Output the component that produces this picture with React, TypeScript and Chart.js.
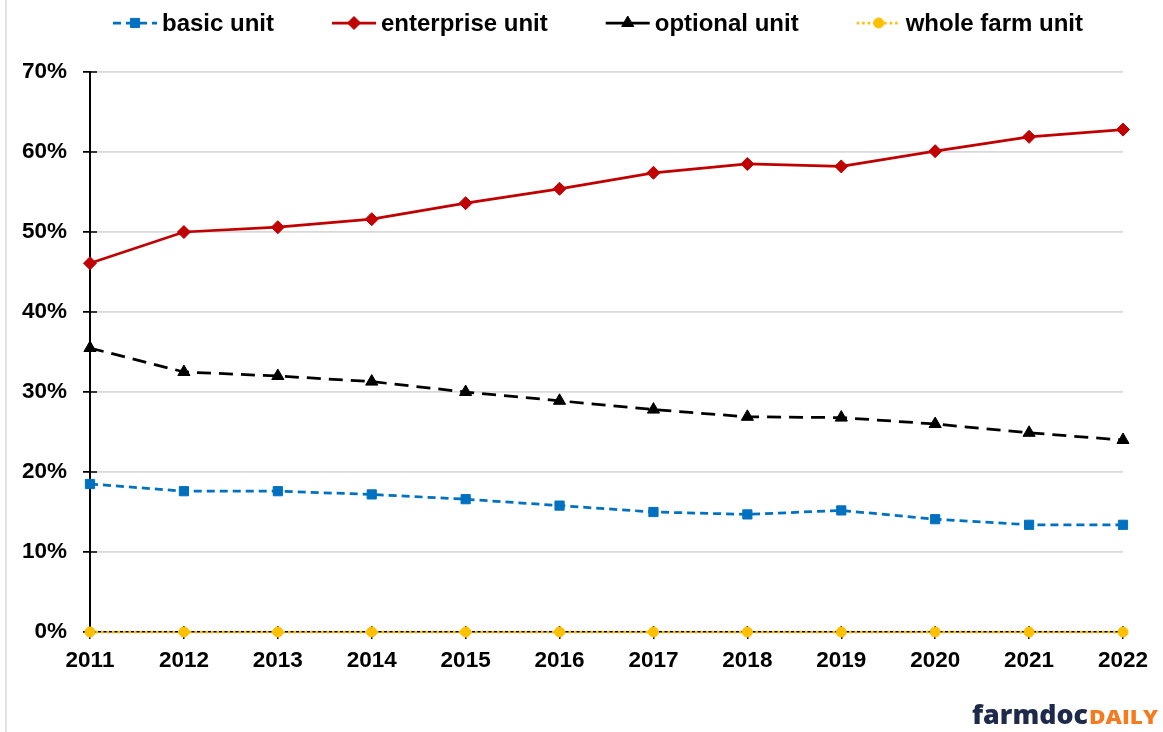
import React, { useEffect, useRef } from 'react';
import { Chart, registerables } from 'chart.js';
import { drawPoint } from 'chart.js/helpers';

Chart.register(...registerables);

const years = ['2011', '2012', '2013', '2014', '2015', '2016', '2017', '2018', '2019', '2020', '2021', '2022'];
const basicUnit = [18.5, 17.6, 17.6, 17.2, 16.6, 15.8, 15.0, 14.7, 15.2, 14.1, 13.4, 13.4];
const enterpriseUnit = [46.1, 50.0, 50.6, 51.6, 53.6, 55.4, 57.4, 58.5, 58.2, 60.1, 61.9, 62.8];
const optionalUnit = [35.5, 32.5, 32.0, 31.3, 30.0, 28.9, 27.8, 26.9, 26.8, 26.0, 24.9, 24.0];
const wholeFarmUnit = [0, 0, 0, 0, 0, 0, 0, 0, 0, 0, 0, 0];
const yMin = 0;
const yMax = 70;
const yStep = 10;

const FONT = '"Liberation Sans", Arial, Helvetica, sans-serif';

const framePlugin = {
  id: 'frame',
  beforeDraw(chart: any) {
    const ctx = chart.ctx;
    ctx.save();
    ctx.fillStyle = '#ffffff';
    ctx.fillRect(0, 0, chart.width, chart.height);
    ctx.strokeStyle = '#d9d9d9';
    ctx.lineWidth = 1.5;
    ctx.beginPath();
    ctx.moveTo(6, 0);
    ctx.lineTo(6, chart.height);
    ctx.stroke();
    ctx.restore();
  },
};

const crossTickPlugin = {
  id: 'crossTicks',
  beforeDatasetsDraw(chart: any) {
    const ctx = chart.ctx;
    const xs = chart.scales.x;
    const ys = chart.scales.y;
    ctx.save();
    ctx.strokeStyle = '#000';
    ctx.lineWidth = 1.5;
    ctx.beginPath();
    ys.ticks.forEach((t: any) => {
      const y = ys.getPixelForValue(t.value);
      ctx.moveTo(xs.left, y);
      ctx.lineTo(xs.left + 7, y);
    });
    years.forEach((_, i) => {
      const x = xs.getPixelForValue(i);
      ctx.moveTo(x, ys.bottom);
      ctx.lineTo(x, ys.bottom - 6);
    });
    ctx.stroke();
    ctx.restore();
  },
};

const legendPlugin = {
  id: 'customLegend',
  afterDraw(chart: any) {
    const ctx = chart.ctx;
    ctx.save();
    ctx.font = `bold 24px ${FONT}`;
    ctx.textBaseline = 'middle';
    ctx.textAlign = 'left';
    let x = 113;
    const y = 23;
    chart.data.datasets.forEach((ds: any) => {
      ctx.strokeStyle = ds.borderColor;
      ctx.lineWidth = ds.borderWidth;
      ctx.setLineDash(ds.legendDash || []);
      ctx.beginPath();
      ctx.moveTo(x, y);
      ctx.lineTo(x + 44, y);
      ctx.stroke();
      ctx.setLineDash([]);
      ctx.fillStyle = ds.pointBackgroundColor;
      ctx.strokeStyle = ds.pointBorderColor;
      ctx.lineWidth = 1;
      drawPoint(ctx, { pointStyle: ds.pointStyle, radius: ds.pointRadius, borderWidth: 1, rotation: 0 } as any, x + 22, y);
      ctx.fillStyle = '#000';
      ctx.fillText(ds.label, x + 49, y + 1);
      x += 49 + ctx.measureText(ds.label).width + 58;
    });
    ctx.restore();
  },
};

const logoPlugin = {
  id: 'logo',
  afterDraw(chart: any) {
    const ctx = chart.ctx;
    ctx.save();
    ctx.textBaseline = 'alphabetic';
    ctx.textAlign = 'left';
    const base = 724;
    ctx.font = `800 27px "Open Sans", ${FONT}`;
    const w1 = ctx.measureText('farmdoc').width;
    const target1 = 116;
    ctx.save();
    ctx.translate(972, base);
    ctx.scale(target1 / w1, 1);
    ctx.fillStyle = '#1e2a4a';
    ctx.fillText('farmdoc', 0, 0);
    ctx.restore();
    ctx.font = `800 19px "Open Sans", ${FONT}`;
    const w2 = ctx.measureText('DAILY').width;
    const target2 = 69;
    ctx.save();
    ctx.translate(1089, base);
    ctx.scale(target2 / w2, 1);
    ctx.fillStyle = '#f47b20';
    ctx.fillText('DAILY', 0, 0);
    ctx.restore();
    ctx.restore();
  },
};

export default function App() {
  const canvasRef = useRef<HTMLCanvasElement | null>(null);

  useEffect(() => {
    document.body.style.margin = '0';
    const canvas = canvasRef.current;
    if (!canvas) return;
    const chart = new Chart(canvas, {
      type: 'line',
      data: {
        labels: years,
        datasets: [
          {
            label: 'basic unit',
            data: basicUnit,
            borderColor: '#0070c0',
            backgroundColor: '#0070c0',
            pointBackgroundColor: '#0070c0',
            pointBorderColor: '#0070c0',
            borderWidth: 2.75,
            borderDash: [8, 5],
            legendDash: [8, 5],
            pointStyle: 'rect',
            pointRadius: 6.5,
            pointBorderWidth: 1,
            tension: 0,
            clip: false,
          },
          {
            label: 'enterprise unit',
            data: enterpriseUnit,
            borderColor: '#c00000',
            backgroundColor: '#c00000',
            pointBackgroundColor: '#c00000',
            pointBorderColor: '#c00000',
            borderWidth: 2.75,
            pointStyle: 'rectRot',
            pointRadius: 6.5,
            pointBorderWidth: 1,
            tension: 0,
            clip: false,
          },
          {
            label: 'optional unit',
            data: optionalUnit,
            borderColor: '#000000',
            backgroundColor: '#000000',
            pointBackgroundColor: '#000000',
            pointBorderColor: '#000000',
            borderWidth: 2.75,
            borderDash: [14, 8],
            pointStyle: 'triangle',
            pointRadius: 7,
            pointBorderWidth: 1,
            tension: 0,
            clip: false,
          },
          {
            label: 'whole farm unit',
            data: wholeFarmUnit,
            borderColor: '#ffc000',
            backgroundColor: '#ffc000',
            pointBackgroundColor: '#ffc000',
            pointBorderColor: '#ffc000',
            borderWidth: 2.75,
            borderDash: [2.5, 3],
            legendDash: [2.5, 3],
            pointStyle: 'circle',
            pointRadius: 5,
            pointBorderWidth: 1,
            tension: 0,
            clip: false,
          },
        ],
      } as any,
      options: {
        responsive: false,
        animation: false,
        devicePixelRatio: 1,
        layout: { padding: { left: 0, top: 72, right: 40, bottom: 0 } },
        plugins: {
          legend: { display: false },
          tooltip: { enabled: false },
        },
        scales: {
          x: {
            type: 'category',
            offset: false,
            grid: {
              drawOnChartArea: false,
              drawTicks: true,
              tickLength: 7,
              tickColor: '#000',
              lineWidth: 1.5,
            },
            border: { color: '#000', width: 1.5 },
            ticks: {
              color: '#000',
              font: { family: FONT, size: 22.5, weight: 'bold' },
              padding: 8,
              maxRotation: 0,
              autoSkip: false,
            },
            afterFit: (scale: any) => {
              scale.height = 100;
            },
          },
          y: {
            min: yMin,
            max: yMax,
            grid: {
              color: '#d9d9d9',
              lineWidth: 1.75,
              drawTicks: true,
              tickLength: 7,
              tickColor: '#000',
            },
            border: { color: '#000', width: 2 },
            ticks: {
              stepSize: yStep,
              color: '#000',
              font: { family: FONT, size: 22.5, weight: 'bold' },
              padding: 16,
              callback: (v: any) => `${v}%`,
            },
            afterFit: (scale: any) => {
              scale.width = 90;
            },
          },
        },
      } as any,
      plugins: [framePlugin, crossTickPlugin, legendPlugin, logoPlugin],
    });
    return () => chart.destroy();
  }, []);

  return <canvas ref={canvasRef} width={1163} height={732} style={{ display: 'block', width: 1163, height: 732 }} />;
}
